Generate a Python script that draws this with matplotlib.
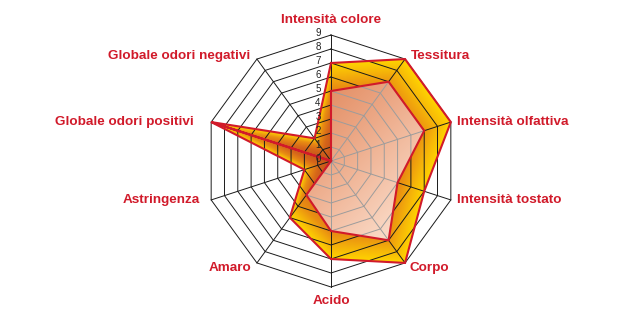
import numpy as np
import matplotlib
matplotlib.use("Agg")
import matplotlib.pyplot as plt
from matplotlib.colors import LinearSegmentedColormap
from matplotlib.patches import Polygon

# --- data ------------------------------------------------------------------
categories = ["Intensità colore", "Tessitura", "Intensità olfattiva",
              "Intensità tostato", "Corpo", "Acido", "Amaro", "Astringenza",
              "Globale odori positivi", "Globale odori negativi"]
outer_vals = [7, 9, 9, 7, 9, 7, 5, 2, 9, 2]
inner_vals = [5, 7, 7, 5, 7, 5, 3, 0, 9, 0]
levels = list(range(10))

# --- layout -----------------------------------------------------------------
W, H = 640, 327
CX, CY = 331, 161          # centre of the web in pixels
UNIT = 14.0                # pixels per level
RED = "#D11A2A"
# per-label nudges in pixels (dx, dy), dy positive = up
label_nudge = [(0, 15), (6, 3), (6, 0), (6, 0), (4, -5),
               (0, -14), (-6, -5), (-11, 0), (-17, 0), (-7, 3)]

n = len(categories)
step = 2 * np.pi / n
theta = np.arange(n) * step
vmax = max(levels)


def to_xy(vals):
    r = np.asarray(vals, dtype=float)
    return r * np.sin(theta), r * np.cos(theta)


fig = plt.figure(figsize=(W / 100, H / 100), dpi=100)
ax = fig.add_axes([0, 0, 1, 1])
ax.axis("off")

# gradient grids
g = np.linspace(-vmax - 0.5, vmax + 0.5, 700)
X, Y = np.meshgrid(g, g)
R = np.hypot(X, Y)
ang = np.mod(np.arctan2(X, Y), 2 * np.pi)
k = np.floor(ang / step).astype(int) % n
t0 = ang - k * step
ov = np.asarray(outer_vals, dtype=float)
r1, r2 = ov[k], ov[(k + 1) % n]
# radius of the outer polygon along each pixel's ray
Rb = r1 * r2 * np.sin(step) / (r2 * np.sin(step - t0) + r1 * np.sin(t0))
tval = np.clip(R / Rb, 0, 1)

cmap_out = LinearSegmentedColormap.from_list(
    "out", [(0, "#C0501A"), (0.45, "#D6661A"), (0.75, "#E98E12"),
            (0.9, "#F7B908"), (1, "#FFD400")])
cmap_in = LinearSegmentedColormap.from_list("in", ["#DE7E4E", "#ECA886", "#FAD8C4"])

ext = [g[0], g[-1], g[0], g[-1]]

ox, oy = to_xy(outer_vals)
ix, iy = to_xy(inner_vals)
outer_patch = Polygon(np.column_stack([ox, oy]), closed=True, fc="none", ec="none")
inner_patch = Polygon(np.column_stack([ix, iy]), closed=True, fc="none", ec="none")
ax.add_patch(outer_patch)
ax.add_patch(inner_patch)

im_out = ax.imshow(cmap_out(tval), extent=ext, origin="lower",
                   interpolation="bilinear", zorder=1)
im_out.set_clip_path(outer_patch)

u = np.clip((X - Y + 9) / 18, 0, 1)
im_in = ax.imshow(cmap_in(u), extent=ext, origin="lower",
                  interpolation="bilinear", zorder=3)
im_in.set_clip_path(inner_patch)

# web: polygons + spokes, black everywhere, gray inside the inner area
for color, z, clip in [("#1a1a1a", 2, None), ("#9c9c9c", 4, inner_patch)]:
    for lev in levels[1:]:
        px, py = to_xy([lev] * n)
        ln, = ax.plot(np.append(px, px[0]), np.append(py, py[0]),
                      color=color, lw=0.7, zorder=z)
        if clip is not None:
            ln.set_clip_path(clip)
    sx, sy = to_xy([vmax] * n)
    for x, y in zip(sx, sy):
        ln, = ax.plot([0, x], [0, y], color=color, lw=0.7, zorder=z)
        if clip is not None:
            ln.set_clip_path(clip)

# series outlines
for xs, ys in [(ox, oy), (ix, iy)]:
    ax.plot(np.append(xs, xs[0]), np.append(ys, ys[0]), color=RED, lw=1.5,
            solid_joinstyle="miter", zorder=5)

# level numbers along the top spoke
for lev in levels:
    ax.text(-13 / UNIT, lev + 0.15, str(lev), ha="center", va="center",
            fontsize=7, color="#222222", family="Liberation Sans", zorder=6)

# category labels
lx, ly = to_xy([vmax] * n)
for i, name in enumerate(categories):
    s = np.sin(theta[i])
    ha = "center" if abs(s) < 0.01 else ("left" if s > 0 else "right")
    dx, dy = label_nudge[i]
    ax.text(lx[i] + dx / UNIT, ly[i] + dy / UNIT, name, ha=ha, va="center",
            fontsize=9.7, fontweight="bold", color=RED,
            family="Liberation Sans", zorder=6)

ax.set_aspect("equal")
ax.set_xlim(-CX / UNIT, (W - CX) / UNIT)
ax.set_ylim(-(H - CY) / UNIT, CY / UNIT)

fig.savefig("out.png", dpi=100, facecolor="white")
